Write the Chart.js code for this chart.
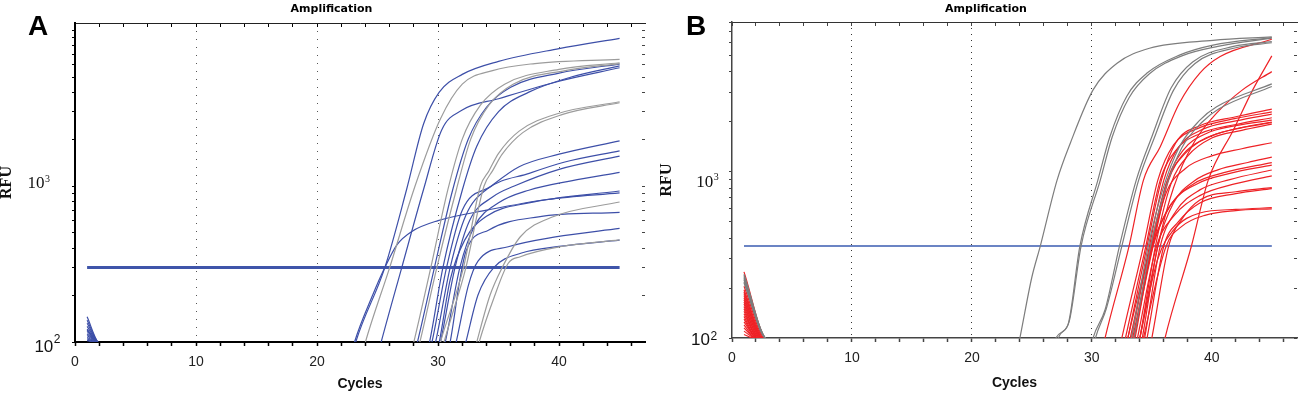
<!DOCTYPE html>
<html><head><meta charset="utf-8">
<script src="https://cdn.jsdelivr.net/npm/chart.js@4.4.1/dist/chart.umd.min.js"></script>
<style>
html,body{margin:0;padding:0;background:#fff;width:1299px;height:395px;overflow:hidden}
canvas{position:absolute;top:0}
#ca{left:0}
#cb{left:650px}
</style></head>
<body>
<canvas id="ca" width="650" height="395"></canvas>
<canvas id="cb" width="649" height="395"></canvas>
<script>
// ---------- DATA ----------
const cycleTickLabels = [0, 10, 20, 30, 40];
const gridCycles = [10, 20, 30, 40];
const yLabelPowers = [2, 3];
const thresholdSpan = [1, 45];
const thresholdA = 300;
const thresholdB = 358;

// Panel A: blue sample curves [cycle, RFU]
const blueA = [
  [[1,145],[2,98],[22.2,50],[23.2,100],[25.6,300],[27.4,950],[28.8,2500],[30.1,4000],[32,5200],[35,6300],[40,7600],[45,8850]],
  [[1,138],[2,98],[22.1,50],[23.1,100],[24.6,200],[25.6,300],[26.6,420],[27.8,510],[30,600],[34,700],[39,820],[45,905]],
  [[1,132],[2,98],[24.3,50],[25.3,100],[27.0,300],[28.8,950],[30.3,2290],[32,3070],[35,3630],[40,4700],[45,5730]],
  [[1,126],[2,98],[27.3,50],[28.3,100],[29.7,300],[31.2,940],[32.5,2000],[34,3200],[36,4300],[40,5300],[45,6050]],
  [[1,121],[2,98],[28.3,50],[29.3,100],[30.4,300],[32,940],[33.2,1800],[35,3000],[37.5,4000],[41,5000],[45,5900]],
  [[1,117],[2,98],[28.5,50],[29.5,100],[30.7,300],[32,700],[34.4,1000],[36.7,1330],[40,1600],[45,1950]],
  [[1,113],[2,98],[28.8,50],[29.8,100],[31,300],[32.3,650],[34,950],[37.6,1210],[40.4,1420],[45,1680]],
  [[1,110],[2,98],[29.2,50],[30.2,100],[31.4,300],[32.6,600],[34.5,850],[36.3,1000],[40,1280],[45,1557]],
  [[1,107],[2,98],[29.6,50],[30.6,100],[31.8,300],[33,550],[35,780],[37.5,940],[41,1080],[45,1224]],
  [[1,105],[2,98],[29.1,50],[30.1,100],[31,250],[32.2,450],[34,640],[37.5,780],[45,929]],
  [[1,103],[2,98],[30,50],[31.0,100],[31.8,250],[32.3,380],[34.2,523],[38.3,635],[45,678]],
  [[1,119],[2,98],[30.5,50],[31.5,100],[32.5,230],[33.3,330],[35.8,408],[39.7,472],[45,535]],
  [[1,102],[2,98],[31.3,50],[32.3,100],[33.3,200],[34.6,300],[36.9,372],[40,410],[45,450]]
];
// Panel A: grey standard curves
const greyA = [
  [[23,50],[24.0,100],[26.0,300],[28.1,1000],[30.2,2700],[32,4500],[34.5,5500],[38,6100],[45,6490]],
  [[27,50],[28,100],[29.4,300],[30.8,940],[32,2000],[33.5,3300],[35.5,4500],[40,5600],[45,6170]],
  [[27.5,50],[28.5,100],[29.9,300],[31.5,940],[32.7,2000],[34.2,3300],[36.2,4500],[40.5,5500],[45,6100]],
  [[29.2,50],[30.2,100],[32.1,300],[33.5,1000],[34.2,1250],[35,1620],[36.7,2250],[40,2930],[45,3470]],
  [[29.5,50],[30.5,100],[32.3,300],[33.8,1000],[34.5,1250],[35.3,1600],[37,2200],[40.3,2880],[45,3420]],
  [[32.2,50],[33.2,100],[34.3,200],[35.3,300],[36.8,473],[39.5,635],[45,790]],
  [[32.4,50],[33.4,100],[34.6,190],[35.8,320],[36.8,352],[40.1,408],[45,451]]
];
// Panel B: grey standard curves
const greyB = [
  [[1,242],[2.9,98],[23,45],[24,100],[25,233],[25.7,358],[27.1,893],[28.2,1490],[30.1,3120],[32.1,4520],[34.8,5560],[40.1,6200],[45,6500]],
  [[1,238],[2.9,98],[26,45],[27,100],[28,120],[29,358],[30.5,893],[31.5,1630],[32.9,2850],[34.6,3940],[37.3,5050],[40.1,5800],[45,6450]],
  [[1,232],[2.9,98],[26.2,45],[27.2,100],[28.1,125],[29.1,358],[30.7,893],[31.7,1630],[33.1,2800],[34.8,3900],[37.5,5000],[40.5,5700],[45,6400]],
  [[1,228],[2.9,98],[29.1,45],[30.1,100],[31.1,148],[32.3,358],[33.7,893],[35,1630],[36.6,3200],[38.4,4600],[41.8,5700],[45,6100]],
  [[1,224],[2.9,98],[29.3,45],[30.3,100],[31.2,150],[32.5,358],[33.9,893],[35.2,1600],[36.8,3100],[38.6,4500],[42,5600],[45,6000]],
  [[1,218],[2.9,98],[32.3,45],[33.3,100],[34.7,358],[35.9,780],[37.3,1420],[39,2050],[40.4,2470],[45,3390]],
  [[1,214],[2.9,98],[32.5,45],[33.5,100],[34.9,358],[36.1,780],[37.5,1400],[39.2,2000],[40.6,2400],[45,3270]]
];
// Panel B: red sample curves
const redB = [
  [[1,250],[2.9,98],[30.1,45],[31.1,100],[33.1,358],[34.3,893],[35.7,1420],[37.3,2600],[39,3940],[40.7,4960],[45,6300]],
  [[1,205],[2.8,98],[35.1,45],[36.1,100],[38.3,358],[39.7,893],[41.8,1790],[43.4,3110],[45,5000]],
  [[1,195],[2.7,98],[33,45],[34,100],[35.5,358],[36.8,800],[38.5,1500],[40.5,2300],[42.5,3100],[45,4020]],
  [[1,190],[2.6,98],[32,45],[33.0,100],[34.6,358],[35.8,893],[37,1500],[39,1900],[42,2150],[45,2390]],
  [[1,185],[2.6,98],[32.3,45],[33.3,100],[34.8,358],[36,893],[37.2,1400],[39.2,1800],[42,2030],[45,2230]],
  [[1,180],[2.5,98],[31.8,45],[32.8,100],[34.5,358],[35.7,893],[37,1350],[39,1700],[42,1930],[45,2120]],
  [[1,175],[2.5,98],[32.6,45],[33.6,100],[35,358],[36.3,893],[37.6,1350],[39.5,1700],[42,1900],[45,2050]],
  [[1,170],[2.4,98],[32.2,45],[33.2,100],[34.9,358],[36.2,850],[37.5,1250],[39.5,1600],[42,1820],[45,1980]],
  [[1,165],[2.4,98],[33,45],[34,100],[35.3,358],[36.6,850],[38,1250],[40,1600],[42.5,1780],[45,1940]],
  [[1,160],[2.3,98],[31.5,45],[32.5,100],[34.3,358],[35.5,893],[36.8,1450],[39,1850],[42,2100],[45,2300]],
  [[1,155],[2.3,98],[32.5,45],[33.5,100],[35,358],[36.2,750],[37.8,1050],[40,1250],[42.5,1380],[45,1500]],
  [[1,150],[2.2,98],[33.2,45],[34.2,100],[35.5,358],[36.8,650],[38.5,880],[40.5,1030],[43,1140],[45,1227]],
  [[1,145],[2.2,98],[32.4,45],[33.4,100],[35.1,358],[36.5,620],[38.5,850],[41,990],[45,1138]],
  [[1,140],[2.2,98],[32,45],[33,100],[35,358],[36.6,640],[38.8,850],[41.5,980],[45,1100]],
  [[1,135],[2.1,98],[33.4,45],[34.4,100],[35.7,358],[37,580],[39,780],[41.5,900],[45,1028]],
  [[1,130],[2.1,98],[32.8,45],[33.8,100],[35.4,358],[36.8,540],[39,720],[42,850],[45,946]],
  [[1,125],[2.1,98],[33.6,45],[34.6,100],[36,358],[37.2,500],[39,650],[42,740],[45,794]],
  [[1,120],[2,98],[34,45],[35,100],[36.4,358],[37.5,520],[39,678],[42,760],[45,805]],
  [[1,115],[2,98],[33,45],[34,100],[35.5,300],[36.8,447],[39,566],[42,595],[45,609]],
  [[1,110],[2,98],[33.3,45],[34.3,100],[36.2,358],[37.5,470],[39.5,550],[42,585],[45,600]],
  [[1,105],[2,98],[32.5,45],[33.5,100],[35.1,358],[36.4,893],[37.8,1300],[40,1650],[42.5,1850],[45,2000]]
];

// ---------- RENDERING ----------
function isWholeStep(v){
  const m = v / Math.pow(10, Math.floor(Math.log10(v) + 1e-9));
  return Math.abs(m - Math.round(m)) < 1e-6;
}

const panelText = {
  id: 'panelText',
  afterDraw(chart, args, o) {
    const ctx = chart.ctx, ys = chart.scales.y;
    ctx.save();
    ctx.fillStyle = '#000';
    ctx.textBaseline = 'alphabetic';
    ctx.textAlign = 'left';
    ctx.font = 'bold 28px "Liberation Sans"';
    ctx.fillText(o.letter, o.letterX, 35);
    ctx.textAlign = 'center';
    ctx.font = 'bold 11px "DejaVu Sans"';
    ctx.fillText('Amplification', o.titleX, 12);
    ctx.fillStyle = '#111';
    yLabelPowers.forEach((p, i) => {
      const s = o.yLab[i];
      const py = ys.getPixelForValue(Math.pow(10, p));
      ctx.textAlign = 'right'; ctx.font = s.font;
      ctx.fillText('10', s.right, py + s.dy);
      ctx.textAlign = 'left'; ctx.font = s.efont;
      ctx.fillText(String(p), s.right + 0.5, py + s.edy);
    });
    ctx.restore();
  }
};

function buildChart(id, p) {
  const datasets = [];
  p.groups.forEach(g => g.curves.forEach(c => datasets.push({
    data: c, borderColor: g.color, borderWidth: g.width, pointRadius: 0,
    cubicInterpolationMode: 'monotone', capBezierPoints: false, fill: false, clip: 0
  })));
  datasets.push({
    data: thresholdSpan.map(x => [x, p.threshold]), borderColor: p.thColor,
    borderWidth: p.thWidth, pointRadius: 0, fill: false, clip: 0
  });
  return new Chart(document.getElementById(id), {
    type: 'line',
    data: { datasets },
    options: {
      responsive: false, animation: false, devicePixelRatio: 1,
      elements: { line: { capBezierPoints: false } },
      layout: { padding: p.pad },
      plugins: { legend: { display: false }, tooltip: { enabled: false }, panelText: p.text },
      scales: {
        x: {
          type: 'linear', position: 'bottom', min: 0, max: p.xMax,
          afterFit: s => { s.height = p.bottomH; },
          ticks: { stepSize: 2, includeBounds: false, autoSkip: false, maxRotation: 0, padding: 8,
            color: '#222', font: { family: 'Liberation Sans', size: 14 },
            callback: v => cycleTickLabels.includes(v) ? String(v) : '' },
          grid: { drawOnChartArea: true, lineWidth: 1,
            color: c => (c.tick && gridCycles.includes(c.tick.value)) ? p.gridColor : 'rgba(0,0,0,0)',
            tickLength: 4, tickWidth: 1.5, tickColor: p.axisColor },
          border: { display: true, color: p.axisColor, width: p.axisWidth, dash: p.gridDash },
          title: { display: true, text: 'Cycles', color: '#111',
            font: { family: 'Liberation Sans', weight: 'bold', size: 14 },
            padding: { top: 0, bottom: p.cyclesPad } }
        },
        xTop: {
          type: 'linear', position: 'top', min: 0, max: p.xMax,
          afterFit: s => { s.height = 5; },
          ticks: { display: false, stepSize: 2, includeBounds: false, autoSkip: false },
          grid: { drawOnChartArea: false, tickLength: -4, tickWidth: 1, tickColor: p.axisColor },
          border: { display: true, color: p.topColor, width: 1 }
        },
        y: {
          type: 'logarithmic', position: 'left', min: 100, max: p.yMax,
          afterFit: s => { s.width = p.leftW; },
          ticks: { display: false },
          grid: { drawOnChartArea: false, tickLength: 3, tickWidth: 1.2,
            tickColor: c => (c.tick && isWholeStep(c.tick.value)) ? p.axisColor : 'rgba(0,0,0,0)' },
          border: { display: true, color: p.axisColor, width: p.axisWidth },
          title: { display: true, text: 'RFU', color: '#111',
            font: { family: 'Liberation Serif', weight: 'bold', size: 16, lineHeight: 1 },
            padding: { top: -1, bottom: 0 } }
        },
        yRight: {
          type: 'logarithmic', position: 'right', min: 100, max: p.yMax,
          afterFit: s => { s.width = p.rightW; },
          ticks: { display: false },
          grid: { drawOnChartArea: false, tickLength: -3, tickWidth: 1,
            tickColor: c => (c.tick && isWholeStep(c.tick.value)) ? '#444' : 'rgba(0,0,0,0)' },
          border: { display: false }
        }
      }
    },
    plugins: [panelText]
  });
}

buildChart('ca', {
  groups: [
    { curves: greyA, color: '#9c9c9c', width: 1.2 },
    { curves: blueA, color: '#3d4fa8', width: 1.2 }
  ],
  threshold: thresholdA, thColor: '#3f55aa', thWidth: 3,
  pad: { left: 0, right: 0, top: 18, bottom: 0 },
  leftW: 75, rightW: 5, bottomH: 53, cyclesPad: 2,
  xMax: 47.1, yMax: 11100,
  axisColor: '#000', axisWidth: 2, topColor: '#222',
  gridColor: '#555', gridDash: [1, 7],
  text: { letter: 'A', letterX: 28, titleX: 331.5,
    yLab: [
      { font: '17px "Liberation Sans"', efont: '12px "Liberation Sans"', right: 53.3, dy: 9.7, edy: 1.3 },
      { font: '17px "Liberation Serif"', efont: '10px "Liberation Serif"', right: 44.5, dy: 2, edy: -4.5 }
    ] }
});

buildChart('cb', {
  groups: [
    { curves: greyB, color: '#7d7d7d', width: 1.2 },
    { curves: redB, color: '#ee2226', width: 1.2 }
  ],
  threshold: thresholdB, thColor: '#3a5bb0', thWidth: 1.5,
  pad: { left: 10, right: 0, top: 17, bottom: 0 },
  leftW: 72, rightW: 2, bottomH: 57, cyclesPad: 3,
  xMax: 47.1, yMax: 8000,
  axisColor: '#444', axisWidth: 1.5, topColor: '#333',
  gridColor: '#333', gridDash: [1, 5],
  text: { letter: 'B', letterX: 36, titleX: 336,
    yLab: [
      { font: '17px "Liberation Sans"', efont: '12px "Liberation Sans"', right: 60, dy: 7, edy: 2 },
      { font: '17px "Liberation Serif"', efont: '10px "Liberation Serif"', right: 63.3, dy: 14.7, edy: 8 }
    ] }
});
</script>
</body></html>
